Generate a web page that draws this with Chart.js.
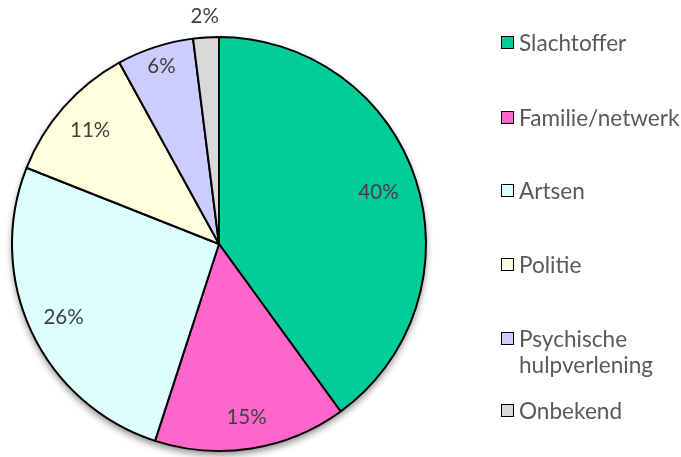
<!DOCTYPE html>
<html>
<head>
<meta charset="utf-8">
<script src="https://cdn.jsdelivr.net/npm/chart.js@4"></script>
<style>
  html, body { margin: 0; padding: 0; background: #fff; overflow: hidden; }
  #wrap { position: relative; width: 681px; height: 457px; overflow: hidden; }
  #c { position: absolute; left: 0; top: 0; }
  .lg { position: absolute; left: 501px; font-family: Lato, "Open Sans", sans-serif; font-size: 22.6px; color: #595959; line-height: 26px; white-space: nowrap; }
  .lg .sw { position: absolute; left: 0; top: 6px; width: 11px; height: 11px; border: 1.7px solid #000; }
  .lg .tx { position: absolute; left: 18px; top: 0; }
</style>
</head>
<body>
<div id="wrap">
  <canvas id="c" width="681" height="457"></canvas>
</div>
<script>
const categories = ["Slachtoffer", "Familie/netwerk", "Artsen", "Politie", "Psychische hulpverlening", "Onbekend"];
const legendLines = [["Slachtoffer"], ["Familie/netwerk"], ["Artsen"], ["Politie"], ["Psychische", "hulpverlening"], ["Onbekend"]];
const values = [40, 15, 26, 11, 6, 2];
const valueLabels = ["40%", "15%", "26%", "11%", "6%", "2%"];

// styles / positions (not data)
const colors = ["#00CC99", "#FF66CC", "#DDFFFF", "#FFFFDD", "#CCCCFF", "#D9D9D9"];
const labelRadiusFactor = [0.81, 0.85, 0.83, 0.83, 0.9, 1.1];
const legendTops = [30, 105, 178, 252, 326, 398];

const shadowPlugin = {
  id: 'pieShadow',
  beforeDatasetsDraw(chart) {
    const arc = chart.getDatasetMeta(0).data[0];
    if (!arc) return;
    const ctx = chart.ctx;
    ctx.save();
    ctx.shadowColor = 'rgba(0,0,0,0.45)';
    ctx.shadowBlur = 7;
    ctx.shadowOffsetX = 0;
    ctx.shadowOffsetY = 4;
    ctx.beginPath();
    ctx.arc(arc.x, arc.y, arc.outerRadius, 0, Math.PI * 2);
    ctx.fillStyle = '#fff';
    ctx.fill();
    ctx.restore();
  }
};

const labelPlugin = {
  id: 'pieLabels',
  afterDatasetsDraw(chart) {
    const ctx = chart.ctx;
    const meta = chart.getDatasetMeta(0);
    ctx.save();
    ctx.font = '20.5px Lato, "Open Sans", sans-serif';
    ctx.fillStyle = '#404040';
    ctx.textAlign = 'center';
    ctx.textBaseline = 'middle';
    meta.data.forEach((a, i) => {
      const mid = (a.startAngle + a.endAngle) / 2;
      const r = a.outerRadius * labelRadiusFactor[i];
      ctx.fillText(valueLabels[i], a.x + Math.cos(mid) * r, a.y + Math.sin(mid) * r);
    });
    ctx.restore();
  }
};

new Chart(document.getElementById('c'), {
  type: 'pie',
  data: {
    labels: categories,
    datasets: [{
      data: values,
      backgroundColor: colors,
      borderColor: '#000',
      borderWidth: 2
    }]
  },
  options: {
    responsive: false,
    animation: false,
    layout: { padding: { left: 11, top: 36, right: 254, bottom: 5 } },
    plugins: { legend: { display: false }, tooltip: { enabled: false } }
  },
  plugins: [shadowPlugin, labelPlugin]
});

const wrap = document.getElementById('wrap');
legendLines.forEach((lines, i) => {
  const d = document.createElement('div');
  d.className = 'lg';
  d.style.top = legendTops[i] + 'px';
  const sw = document.createElement('div');
  sw.className = 'sw';
  sw.style.background = colors[i];
  const tx = document.createElement('div');
  tx.className = 'tx';
  tx.innerHTML = lines.join('<br>');
  d.appendChild(sw);
  d.appendChild(tx);
  wrap.appendChild(d);
});
</script>
</body>
</html>
